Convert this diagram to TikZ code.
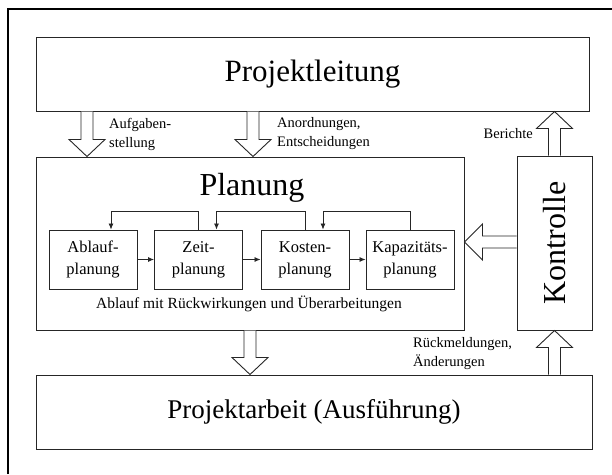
\documentclass[tikz,border=0pt]{standalone}
\usepackage{fontspec}
\setmainfont{Liberation Serif}
\usetikzlibrary{arrows.meta,calc}

% fat hollow block arrows between two anchor points (shaft 12, head 36 x 17)
\newcommand\fatdown[2]{%
  \draw[fat] let \p1=(#1), \p2=(#2) in
    (\x1-6pt,\y1) -- (\x1-6pt,\y2+17pt) -- (\x1-18pt,\y2+17pt) -- (\x1,\y2)
    -- (\x1+18pt,\y2+17pt) -- (\x1+6pt,\y2+17pt) -- (\x1+6pt,\y1);}
\newcommand\fatup[2]{%
  \draw[fat] let \p1=(#1), \p2=(#2) in
    (\x1-6pt,\y1) -- (\x1-6pt,\y2-17pt) -- (\x1-18pt,\y2-17pt) -- (\x1,\y2)
    -- (\x1+18pt,\y2-17pt) -- (\x1+6pt,\y2-17pt) -- (\x1+6pt,\y1);}
\newcommand\fatleft[2]{%
  \draw[fat] let \p1=(#1), \p2=(#2) in
    (\x1,\y1+6pt) -- (\x2+18pt,\y1+6pt) -- (\x2+18pt,\y1+18pt) -- (\x2,\y1)
    -- (\x2+18pt,\y1-18pt) -- (\x2+18pt,\y1-6pt) -- (\x1,\y1-6pt);}

\begin{document}
\begin{tikzpicture}[x=1pt,y=-1pt,
  bigbox/.style={draw=black!85, line width=1pt, inner sep=0pt},
  subbox/.style={draw=black!85, line width=0.9pt, minimum width=88pt,
    minimum height=59pt, align=center, inner sep=0pt,
    font=\fontsize{16.5}{22}\selectfont},
  fat/.style={draw=black!85, line width=0.9pt, fill=white, line join=miter},
  flow/.style={draw=black!85, line width=0.8pt, -{Latex[length=6pt,width=5pt]}},
  lbl/.style={align=left, inner sep=0pt, font=\fontsize{14.5}{19}\selectfont},
  huge/.style={font=\fontsize{32}{36}\selectfont}]
\useasboundingbox (0,0) rectangle (612,474);
\fill[white] (0,0) rectangle (612,474);

% frame edges
\draw[line width=2.6pt] (8,474) -- (8,9) -- (612,9);

% main blocks
\node[bigbox, minimum width=553pt, minimum height=74pt,
  font=\fontsize{31}{36}\selectfont]
  (leitung) at (312.5,74) {Projektleitung};
\node[bigbox, minimum width=428pt, minimum height=173pt]
  (planung) at (250,243.5) {};
\node[bigbox, minimum width=75pt, minimum height=174pt]
  (kontrolle) at (554.5,243) {};
\node[huge, rotate=90] (ktext) at (kontrolle.center) {Kontrolle};
\node[bigbox, minimum width=556pt, minimum height=74pt,
  font=\fontsize{27}{32}\selectfont]
  (arbeit) at (314,412) {Projektarbeit (Ausführung)};

% inside the planning block
\node[huge] (ptitle) at (252,188) {Planung};
\node[subbox] (ablauf) at (93,259.5) {Ablauf-\\planung};
\node[subbox] (zeit) at (198.5,259.5) {Zeit-\\planung};
\node[subbox] (kosten) at (305,259.5) {Kosten-\\planung};
\node[subbox] (kapa) at (410,259.5) {Kapazitäts-\\planung};
\node[inner sep=0pt, font=\fontsize{15.5}{18}\selectfont]
  (caption) at (249,304) {Ablauf mit Rückwirkungen und Überarbeitungen};

\draw[flow] (ablauf) -- (zeit);
\draw[flow] (zeit) -- (kosten);
\draw[flow] (kosten) -- (kapa);

\draw[flow] (zeit.north) -- ++(0,-18) -| ([xshift=18pt]ablauf.north);
\draw[flow] (kosten.north) -- ++(0,-18) -| ([xshift=18pt]zeit.north);
\draw[flow] (kapa.north) -- ++(0,-18) -| ([xshift=18pt]kosten.north);

% block arrows
\coordinate (a1) at (87,111);
\coordinate (a2) at (253,111);
\fatdown{a1 |- leitung.south}{a1 |- planung.north}
\fatdown{a2 |- leitung.south}{a2 |- planung.north}
\fatdown{planung.south}{planung.south |- arbeit.north}
\fatup{kontrolle.north}{kontrolle.north |- leitung.south}
\fatup{kontrolle.north |- arbeit.north}{kontrolle.south}
\fatleft{kontrolle.west |- 0,242}{planung.east |- 0,242}

% labels
\node[lbl, anchor=west] (l1) at (109,134) {Aufgaben-\\stellung};
\node[lbl, anchor=west] (l2) at (277,134) {Anordnungen,\\Entscheidungen};
\node[lbl, anchor=east] (l3) at (533,134) {Berichte};
\node[lbl, anchor=west] (l4) at (413,354) {Rückmeldungen,\\Änderungen};
\end{tikzpicture}
\end{document}
